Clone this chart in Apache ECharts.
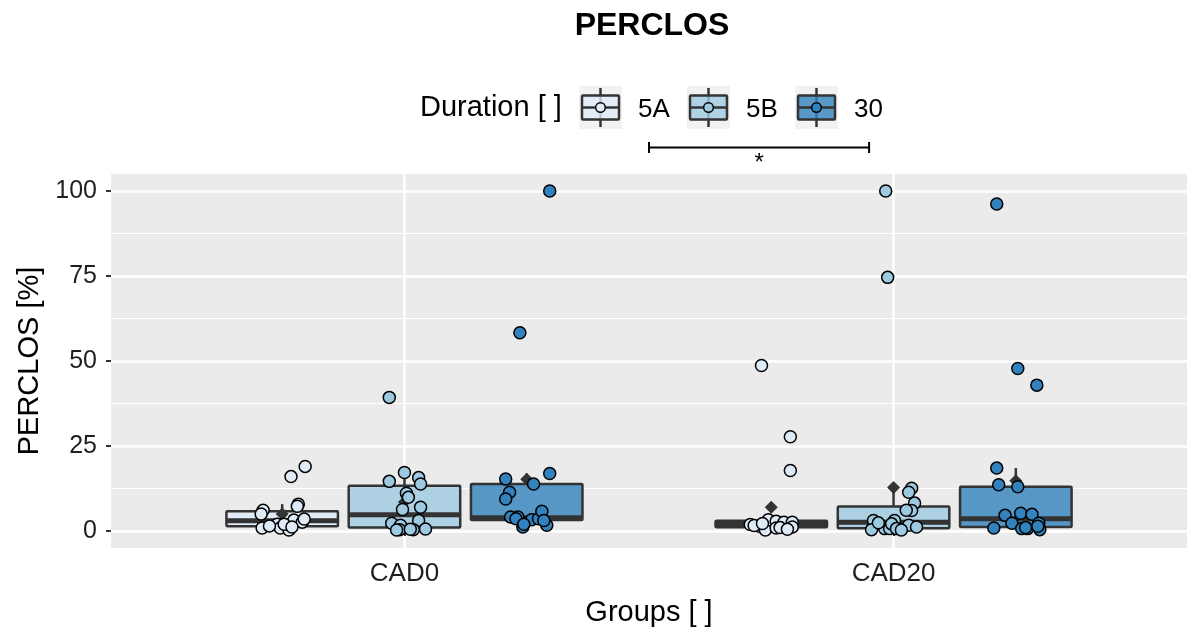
<!DOCTYPE html>
<html>
<head>
<meta charset="utf-8">
<title>PERCLOS</title>
<script src="https://cdn.jsdelivr.net/npm/echarts@6/dist/echarts.min.js"></script>
<style>
  html, body { margin: 0; padding: 0; background: #ffffff; }
  #chart { width: 1187px; height: 632px; }
</style>
</head>
<body>
<div id="chart"></div>
<script>
// ---- data -------------------------------------------------------------
const groups = ['CAD0', 'CAD20'];
const durations = ['5A', '5B', '30'];
const yTicks = [0, 25, 50, 75, 100];
const yMinorTicks = [12.5, 37.5, 62.5, 87.5];

// PERCLOS [%] per subject; *_jit holds the horizontal jitter (x-axis units)
const cad0_5A = [16.0, 19.0, 6.1, 5.0, 7.9, 7.3, 0.9, 2.0, 0.9, 0.3, 3.2, 2.6, 3.5, 2.0, 1.2, 1.5];
const cad0_5A_jit = [0.018, 0.047, -0.039, -0.043, 0.033, 0.031, -0.041, -0.010, -0.004, 0.014, 0.024, 0.041, 0.045, 0.004, 0.020, -0.026];

const cad0_5B = [39.3, 17.2, 14.6, 15.7, 13.8, 11.1, 9.9, 6.3, 7.0, 2.3, 1.7, 0.4, 3.1, 0.4, 0.6, 0.3, 0.5];
const cad0_5B_jit = [-0.031, 0.000, -0.031, 0.029, 0.033, 0.004, 0.008, -0.004, 0.033, -0.026, -0.008, -0.010, 0.029, 0.018, 0.043, -0.016, 0.012];

const cad0_30 = [100, 58.3, 16.9, 15.3, 13.8, 11.4, 9.4, 4.1, 4.1, 3.6, 1.2, 3.3, 3.6, 5.8, 1.7, 3.1, 2.0];
const cad0_30_jit = [0.047, -0.014, 0.047, -0.043, 0.014, -0.035, -0.043, -0.033, -0.018, -0.022, -0.008, 0.010, 0.024, 0.031, 0.041, 0.035, -0.006];

const cad20_5A = [48.7, 27.7, 17.8, 1.9, 1.4, 0.3, 3.3, 2.9, 0.9, 2.6, 2.6, 1.2, 1.6, 1.0, 2.2, 0.5];
const cad20_5A_jit = [-0.020, 0.039, 0.039, -0.043, -0.024, -0.012, -0.006, 0.010, 0.010, 0.026, 0.043, 0.043, -0.035, 0.018, -0.018, 0.033];

const cad20_5B = [100, 74.6, 12.6, 11.4, 8.2, 6.0, 6.1, 3.1, 0.4, 0.7, 0.7, 3.1, 2.1, 0.7, 1.7, 1.2, 2.4, 0.3];
const cad20_5B_jit = [-0.016, -0.012, 0.037, 0.031, 0.043, 0.037, 0.026, -0.041, -0.045, -0.018, -0.008, 0.002, -0.004, 0.006, 0.031, 0.047, -0.031, 0.016];

const cad20_30 = [96.2, 47.8, 42.9, 18.5, 13.6, 13.0, 4.6, 5.2, 4.9, 2.3, 2.3, 0.9, 0.7, 0.7, 0.4, 1.4, 1.0];
const cad20_30_jit = [-0.039, 0.004, 0.043, -0.039, -0.035, 0.004, -0.022, 0.010, 0.033, -0.008, 0.047, -0.045, 0.012, 0.024, 0.049, 0.045, 0.020];

// box statistics per duration: [lower whisker, Q1, median, Q3, upper whisker]
const box_cad0 = [[0.3, 1.4, 3.0, 5.8, 7.9], [0.3, 1.0, 4.8, 13.3, 17.2], [1.2, 3.2, 3.9, 13.8, 16.9]];
const box_cad20 = [[0.3, 1.1, 2.0, 3.0, 3.3], [0.3, 0.8, 2.6, 7.2, 12.6], [0.4, 1.2, 3.6, 13.0, 18.5]];

// group means per duration
const mean_cad0 = [5.0, 8.5, 15.2];
const mean_cad20 = [7.0, 12.8, 14.8];

// significance bracket: [x from, x to, y level], with its label
const signifBracket = [1.50, 1.95, 112.8];
const signifLabel = '*';

// ---- appearance ---------------------------------------------------------
const fills = ['#deebf7', '#9ecae1', '#3182bd'];
const boxAlpha = 0.8;
const dodge = [-0.25, 0, 0.25];
const BOX_W = 0.228;
const FONT = '"Liberation Sans", Arial, Helvetica, sans-serif';
const INK = '#333333';
const TICK_TEXT = '#1f1f1f';

function rgba(hex, a) {
  const n = parseInt(hex.slice(1), 16);
  return 'rgba(' + (n >> 16 & 255) + ',' + (n >> 8 & 255) + ',' + (n & 255) + ',' + a + ')';
}

const pointSets = [[cad0_5A, cad0_5B, cad0_30], [cad20_5A, cad20_5B, cad20_30]];
const jitterSets = [[cad0_5A_jit, cad0_5B_jit, cad0_30_jit], [cad20_5A_jit, cad20_5B_jit, cad20_30_jit]];
const boxSets = [box_cad0, box_cad20];
const meanSets = [mean_cad0, mean_cad20];

function renderBox(params, api) {
  const x = api.value(0);
  const lo = api.coord([x, api.value(1)]);
  const q1 = api.coord([x, api.value(2)]);
  const md = api.coord([x, api.value(3)]);
  const q3 = api.coord([x, api.value(4)]);
  const hi = api.coord([x, api.value(5)]);
  const half = api.size([BOX_W, 0])[0] / 2;
  const fill = api.style().fill;
  const stroke = { stroke: INK, lineWidth: 2.5 };
  return {
    type: 'group',
    children: [
      { type: 'line', shape: { x1: lo[0], y1: lo[1], x2: q1[0], y2: q1[1] }, style: stroke },
      { type: 'line', shape: { x1: q3[0], y1: q3[1], x2: hi[0], y2: hi[1] }, style: stroke },
      { type: 'rect', shape: { x: q1[0] - half, y: q3[1], width: half * 2, height: q1[1] - q3[1], r: 1 },
        style: { fill: fill, stroke: INK, lineWidth: 2.5 } },
      { type: 'line', shape: { x1: md[0] - half, y1: md[1], x2: md[0] + half, y2: md[1] },
        style: { stroke: INK, lineWidth: 5 } }
    ]
  };
}

function renderBracket(params, api) {
  const a = api.coord([api.value(0), api.value(2)]);
  const b = api.coord([api.value(1), api.value(2)]);
  const s = { stroke: '#000', lineWidth: 2 };
  return {
    type: 'group',
    children: [
      { type: 'line', shape: { x1: a[0], y1: a[1], x2: b[0], y2: b[1] }, style: s },
      { type: 'line', shape: { x1: a[0], y1: a[1] - 5.5, x2: a[0], y2: a[1] + 5.5 }, style: s },
      { type: 'line', shape: { x1: b[0], y1: b[1] - 5.5, x2: b[0], y2: b[1] + 5.5 }, style: s },
      { type: 'text', x: (a[0] + b[0]) / 2, y: a[1] + 4,
        style: { text: signifLabel, fill: '#000', font: '24px ' + FONT, align: 'center', verticalAlign: 'top' } }
    ]
  };
}

const series = [];
durations.forEach(function (d, j) {
  series.push({
    name: d, type: 'custom', renderItem: renderBox, z: 2,
    itemStyle: { color: rgba(fills[j], boxAlpha) },
    encode: { x: 0, y: [1, 2, 3, 4, 5] },
    data: groups.map(function (g, i) { return [i + 1 + dodge[j]].concat(boxSets[i][j]); })
  });
});
durations.forEach(function (d, j) {
  series.push({
    name: d + ' mean', type: 'scatter', z: 3, symbol: 'diamond', symbolSize: 13,
    itemStyle: { color: INK, opacity: 1 },
    data: groups.map(function (g, i) { return [i + 1 + dodge[j], meanSets[i][j]]; })
  });
});
durations.forEach(function (d, j) {
  const pts = [];
  groups.forEach(function (g, i) {
    pointSets[i][j].forEach(function (v, k) {
      pts.push([i + 1 + dodge[j] + jitterSets[i][j][k], v]);
    });
  });
  series.push({
    name: d + ' points', type: 'scatter', z: 4, symbolSize: 12,
    itemStyle: { color: fills[j], borderColor: '#000', borderWidth: 1.5, opacity: 1 },
    data: pts
  });
});
series.push({
  type: 'custom', renderItem: renderBracket, clip: false, z: 5,
  encode: { x: [0, 1], y: 2 },
  data: [signifBracket]
});

// ---- legend (drawn as keys next to their labels) -------------------------
const legendKeyX = [579, 687, 795];
const legendY = 86;
const legendGraphics = [{
  type: 'text', left: 420, top: legendY + 21.5 - 14,
  style: { text: 'Duration [ ]', fill: '#000', font: '29px ' + FONT }
}];
durations.forEach(function (d, j) {
  const x0 = legendKeyX[j];
  legendGraphics.push({
    type: 'group', x: x0, y: legendY,
    children: [
      { type: 'rect', shape: { x: 0, y: 0, width: 43, height: 43 }, style: { fill: '#f2f2f2' } },
      { type: 'line', shape: { x1: 21.5, y1: 2, x2: 21.5, y2: 41 }, style: { stroke: INK, lineWidth: 2.5 } },
      { type: 'rect', shape: { x: 3, y: 9.5, width: 37, height: 24, r: 1 },
        style: { fill: rgba(fills[j], boxAlpha), stroke: INK, lineWidth: 2.5 } },
      { type: 'line', shape: { x1: 3, y1: 21.5, x2: 40, y2: 21.5 }, style: { stroke: INK, lineWidth: 2.6 } },
      { type: 'circle', shape: { cx: 21.5, cy: 21.5, r: 4.8 }, style: { fill: fills[j], stroke: '#000', lineWidth: 1.4 } }
    ]
  });
  legendGraphics.push({
    type: 'text', left: x0 + 59, top: legendY + 21.5 - 11,
    style: { text: d, fill: '#000', font: '26px ' + FONT }
  });
});

// ---- chart ----------------------------------------------------------------
const chart = echarts.init(document.getElementById('chart'), null, { renderer: 'canvas' });
chart.setOption({
  animation: false,
  backgroundColor: '#ffffff',
  textStyle: { fontFamily: FONT },
  title: {
    text: 'PERCLOS', left: 647, top: 5, textAlign: 'center',
    textStyle: { fontSize: 32, fontWeight: 'bold', color: '#000', fontFamily: FONT }
  },
  grid: {
    left: 111, top: 174, width: 1080, height: 377,
    show: true, backgroundColor: '#ebebeb', borderWidth: 0, containLabel: false
  },
  xAxis: {
    type: 'value', min: 0.4, max: 2.6,
    axisLine: { show: false },
    axisTick: { show: true, customValues: [1, 2], length: 5, lineStyle: { color: INK, width: 2 } },
    axisLabel: {
      customValues: [1, 2], margin: 13, fontSize: 26, color: TICK_TEXT, fontFamily: FONT,
      formatter: function (v) { return groups[Math.round(v) - 1]; }
    },
    splitLine: { show: true, lineStyle: { color: '#ffffff', width: 2.5 } },
    name: 'Groups [ ]', nameLocation: 'middle', nameGap: 50,
    nameTextStyle: { fontSize: 29, color: '#000', fontFamily: FONT }
  },
  yAxis: [{
    type: 'value', min: -5, max: 105,
    axisLine: { show: false },
    axisTick: { show: true, customValues: yTicks, length: 5, lineStyle: { color: INK, width: 2 } },
    axisLabel: { customValues: yTicks, margin: 14, fontSize: 25, color: TICK_TEXT, fontFamily: FONT },
    splitLine: { show: true, lineStyle: { color: '#ffffff', width: 2.5 } },
    name: 'PERCLOS [%]', nameLocation: 'middle', nameGap: 66, nameRotate: 90,
    nameTextStyle: { fontSize: 29, color: '#000', fontFamily: FONT }
  }, {
    type: 'value', min: -5, max: 105, position: 'left',
    axisLine: { show: false },
    axisTick: { show: false, customValues: yMinorTicks },
    axisLabel: { show: false, customValues: yMinorTicks },
    splitLine: { show: true, lineStyle: { color: '#ffffff', width: 1.2 } }
  }],
  graphic: legendGraphics,
  series: series
});
</script>
</body>
</html>
